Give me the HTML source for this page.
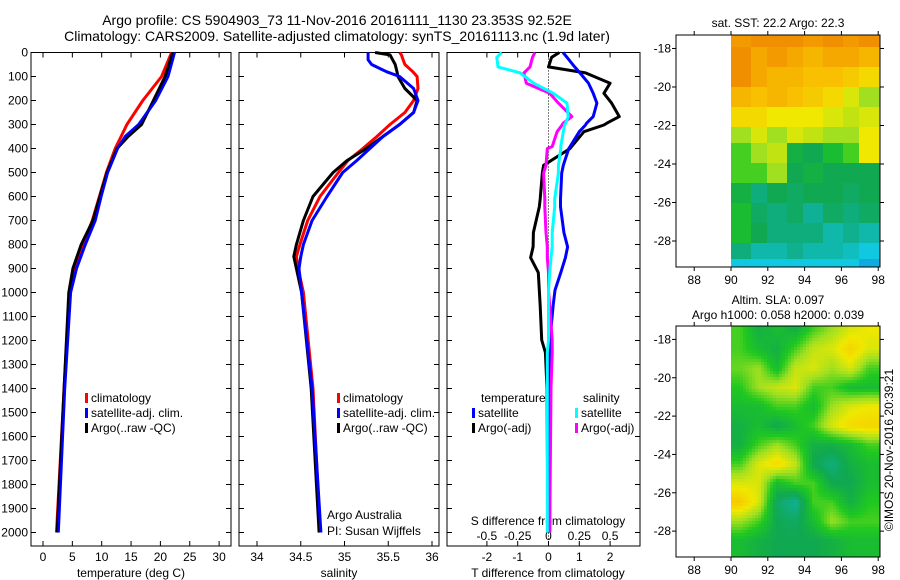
<!DOCTYPE html>
<html><head><meta charset="utf-8"><style>
body{margin:0;background:#fff}
svg{display:block;font-family:"Liberation Sans",sans-serif}
text{font-size:12px;fill:#000}
</style></head><body>
<svg id="c" width="900" height="580" viewBox="0 0 900 580">
<text x="337" y="25" text-anchor="middle" style="font-size:14px">Argo profile: CS 5904903_73 11-Nov-2016 20161111_1130 23.353S 92.52E</text>
<text x="337" y="41" text-anchor="middle" style="font-size:14px">Climatology: CARS2009. Satellite-adjusted climatology: synTS_20161113.nc (1.9d later)</text>
<g id="g"></g>
</svg>
<script>
// ---------- data ----------
const depthTicks=[0,100,200,300,400,500,600,700,800,900,1000,1100,1200,1300,1400,1500,1600,1700,1800,1900,2000];
const tempTicks=[0,5,10,15,20,25,30];
const salTicks=[34,34.5,35,35.5,36];
const salTickLabels=["34","34.5","35","35.5","36"];
const tdiffTicks=[-2,-1,0,1,2];
const sdiffTicks=[-0.5,-0.25,0,0.25,0.5];
const sdiffTickLabels=["-0.5","-0.25","0","0.25","0.5"];
const tDepth=[0,100,200,300,350,400,500,600,700,800,900,1000,1400,2000];
const tempArgo=[22.1,20.8,18.8,16.8,14.5,12.6,10.9,9.7,8.5,6.5,5.1,4.4,3.6,2.4];
const tempClim=[21.9,20.2,17.0,14.3,13.3,12.3,10.8,9.6,8.4,6.9,5.4,4.5,3.6,2.3];
const tempSat=[22.4,21.3,19.2,16.3,14.0,12.7,11.0,9.9,8.9,7.2,5.7,4.7,3.7,2.6];
const sDepth=[0,10,30,50,80,100,150,200,250,300,350,400,450,500,600,700,800,850,900,1000,1400,2000];
const salArgo=[35.35,35.52,35.55,35.58,35.6,35.61,35.69,35.83,35.79,35.63,35.44,35.25,35.03,34.87,34.64,34.53,34.45,34.42,34.45,34.51,34.62,34.71];
const salClim=[35.63,35.65,35.67,35.69,35.78,35.83,35.84,35.79,35.69,35.52,35.37,35.21,35.04,34.93,34.72,34.58,34.49,34.45,34.47,34.53,34.64,34.72];
const salSat=[35.27,35.27,35.27,35.31,35.48,35.63,35.79,35.84,35.79,35.63,35.44,35.29,35.14,34.98,34.8,34.63,34.53,34.5,34.48,34.51,34.63,34.73];
const dDepth=[0,20,60,85,128,170,211,267,294,302,330,392,400,470,503,610,643,750,810,855,917,990,1056,1198,1250,1400,2000];
const tdiffSat=[0.47,0.6,0.85,1.02,1.3,1.45,1.57,1.45,1.24,1.2,1.0,0.7,0.66,0.48,0.43,0.39,0.39,0.5,0.62,0.55,0.4,0.21,0.15,0.05,0.05,0.04,0.04];
const tdiffArgo=[0.35,0.1,0.0,1.2,2.0,1.8,2.05,2.3,1.9,1.8,1.15,0.75,0.7,-0.16,-0.2,-0.27,-0.3,-0.49,-0.5,-0.58,-0.33,-0.3,-0.27,-0.22,-0.1,-0.05,-0.02];
const sdiffSat=[-0.38,-0.42,-0.41,-0.23,-0.12,0.04,0.15,0.16,0.14,0.13,0.12,0.1,0.1,0.08,0.08,0.05,0.05,0.03,0.03,0.02,0.01,0.0,0.0,0.0,-0.01,-0.01,-0.01];
const sdiffArgo=[-0.11,-0.13,-0.15,-0.2,-0.18,0.01,0.08,0.19,0.12,0.11,0.07,0.03,-0.01,-0.02,-0.04,-0.03,-0.03,-0.02,-0.01,-0.01,0.0,0.0,0.01,0.03,0.03,0.02,0.01];
const mapLonTicks=[88,90,92,94,96,98];
const mapLatTicks=[-18,-20,-22,-24,-26,-28];
const sstGrid=[
[0.78,0.8,0.82,0.8,0.78,0.8,0.78,0.82],
[0.8,0.75,0.78,0.75,0.72,0.75,0.75,0.72],
[0.82,0.75,0.72,0.72,0.7,0.7,0.68,0.65],
[0.72,0.7,0.72,0.7,0.68,0.65,0.6,0.55],
[0.65,0.65,0.62,0.62,0.62,0.6,0.58,0.6],
[0.55,0.6,0.55,0.6,0.58,0.55,0.55,0.62],
[0.5,0.55,0.58,0.42,0.4,0.45,0.5,0.62],
[0.5,0.5,0.55,0.4,0.42,0.4,0.4,0.4],
[0.42,0.35,0.4,0.38,0.4,0.4,0.38,0.4],
[0.45,0.38,0.35,0.38,0.32,0.38,0.35,0.38],
[0.45,0.4,0.35,0.35,0.35,0.3,0.33,0.3],
[0.35,0.3,0.3,0.33,0.3,0.3,0.28,0.25],
[0.25,0.25,0.25,0.25,0.25,0.25,0.25,0.22]];
const slaGrid=[
[0.5,0.42,0.45,0.42,0.5,0.55,0.6,0.62],
[0.5,0.45,0.42,0.5,0.58,0.6,0.66,0.6],
[0.52,0.55,0.45,0.58,0.6,0.55,0.6,0.5],
[0.48,0.55,0.58,0.6,0.5,0.5,0.45,0.45],
[0.45,0.45,0.5,0.5,0.45,0.55,0.6,0.62],
[0.42,0.45,0.4,0.45,0.5,0.6,0.65,0.66],
[0.42,0.5,0.55,0.5,0.42,0.42,0.45,0.5],
[0.5,0.6,0.65,0.58,0.4,0.35,0.42,0.45],
[0.6,0.6,0.45,0.5,0.5,0.4,0.4,0.45],
[0.68,0.6,0.38,0.32,0.5,0.5,0.42,0.48],
[0.55,0.5,0.4,0.38,0.45,0.55,0.5,0.5],
[0.45,0.42,0.4,0.4,0.4,0.42,0.45,0.45],
[0.45,0.42,0.4,0.4,0.4,0.42,0.45,0.45]];

// ---------- helpers ----------
const NS="http://www.w3.org/2000/svg";
const G=document.getElementById('g');
function mk(tag,attrs,parent){const e=document.createElementNS(NS,tag);for(const k in attrs)e.setAttribute(k,attrs[k]);(parent||G).appendChild(e);return e;}
function txt(x,y,s,anchor,parent){const t=mk('text',{x:x,y:y,'text-anchor':anchor||'middle'},parent);t.textContent=s;return t;}
const TOP=52.5,BOT=546;
const yD=d=>TOP+d*0.24;
function panel(name,x0,x1){
  const g=mk('g',{});
  
  
  const r=mk('rect',{x:x0,y:TOP,width:x1-x0,height:BOT-TOP,fill:'none',stroke:'#000','stroke-width':1},g);
  
  
  depthTicks.forEach(d=>{mk('line',{x1:x0,x2:x0+5,y1:yD(d),y2:yD(d),stroke:'#000'},g);mk('line',{x1:x1,x2:x1-5,y1:yD(d),y2:yD(d),stroke:'#000'},g);});
  return g;
}
function xticks(g,vals,fx,labels,ly){
  vals.forEach((v,i)=>{const x=fx(v);mk('line',{x1:x,x2:x,y1:TOP,y2:TOP+5,stroke:'#000'},g);mk('line',{x1:x,x2:x,y1:BOT,y2:BOT-5,stroke:'#000'},g);
    if(labels){const t=txt(x,ly,labels[i],'middle',g);}});
}
function line(g,vals,depths,fx,color,name,w){
  const pts=vals.map((v,i)=>fx(v).toFixed(1)+','+yD(depths[i]).toFixed(1)).join(' ');
  const p=mk('polyline',{points:pts,fill:'none',stroke:color,'stroke-width':w||3,'stroke-linejoin':'round'},g);
  
  
}
function legend(g,x,y,color,label){
  mk('rect',{x:x,y:y-9,width:3,height:10,fill:color},g);
  const t=txt(x+6,y,label,'start',g);
  
  
}

// ---------- panel 1: temperature ----------
const xT=v=>43+v*5.87;
const p1=panel('temperature-panel',31,231);
xticks(p1,tempTicks,xT,tempTicks.map(String),561);
depthTicks.forEach(d=>{const t=txt(28,yD(d)+4,String(d),'end',p1);});
line(p1,tempClim,tDepth,xT,'#f00','temp-climatology-line');
line(p1,tempSat,tDepth,xT,'#00f','temp-satellite-line');
line(p1,tempArgo,tDepth,xT,'#000','temp-argo-line');
line(p1,tempSat,tDepth,xT,'#00f','temp-satellite-line-top',2);
let t1=txt(131,577,'temperature (deg C)','middle',p1);
legend(p1,85,402,'#f00','climatology');legend(p1,85,417,'#00f','satellite-adj. clim.');legend(p1,85,432,'#000','Argo(..raw -QC)');

// ---------- panel 2: salinity ----------
const xS=v=>257+(v-34)*87.5;
const p2=panel('salinity-panel',239,439);
xticks(p2,salTicks,xS,salTickLabels,561);
line(p2,salClim,sDepth,xS,'#f00','sal-climatology-line');
line(p2,salArgo,sDepth,xS,'#000','sal-argo-line');
line(p2,salSat,sDepth,xS,'#00f','sal-satellite-line');
let t2=txt(339,577,'salinity','middle',p2);
legend(p2,337,402,'#f00','climatology');legend(p2,337,417,'#00f','satellite-adj. clim.');legend(p2,337,432,'#000','Argo(..raw -QC)');
let a1=txt(327,519,'Argo Australia','start',p2);
let a2=txt(327,535,'PI: Susan Wijffels','start',p2);

// ---------- panel 3: differences ----------
const xD=v=>548.5+v*30.8;
const xSD=v=>548.5+v*123.2;
const p3=panel('difference-panel',447,640);
xticks(p3,tdiffTicks,xD,tdiffTicks.map(String),561);
mk('line',{x1:xD(0),x2:xD(0),y1:TOP,y2:BOT,stroke:'#000','stroke-dasharray':'1,2'},p3);
sdiffTicks.forEach((v,i)=>{const t=txt(xSD(v),540,sdiffTickLabels[i],'middle',p3);});
let s3=txt(548,525,'S difference from climatology','middle',p3);
let t3=txt(548,577,'T difference from climatology','middle',p3);
line(p3,tdiffArgo,dDepth,xD,'#000','tdiff-argo-line');
line(p3,tdiffSat,dDepth,xD,'#00f','tdiff-satellite-line');
line(p3,sdiffArgo,dDepth,xSD,'#f0f','sdiff-argo-line');
line(p3,sdiffSat,dDepth,xSD,'#0ff','sdiff-satellite-line');
let lt=txt(481,402,'temperature','start',p3);
let ls=txt(583,402,'salinity','start',p3);
legend(p3,472,417,'#00f','satellite');legend(p3,472,432,'#000','Argo(-adj)');
legend(p3,575,417,'#0ff','satellite');legend(p3,575,432,'#f0f','Argo(-adj)');

// ---------- maps ----------
const stops=[[0.15,[16,96,224]],[0.25,[16,200,224]],[0.32,[16,176,150]],[0.4,[16,168,80]],[0.48,[32,200,32]],[0.55,[160,224,32]],[0.62,[240,232,0]],[0.7,[248,192,0]],[0.8,[240,144,0]]];
function cmap(v){if(v<=stops[0][0])return stops[0][1];for(let i=1;i<stops.length;i++){if(v<=stops[i][0]){const a=stops[i-1],b=stops[i],f=(v-a[0])/(b[0]-a[0]);return a[1].map((c,k)=>Math.round(c+(b[1][k]-c)*f));}}return stops[stops.length-1][1];}
function map(name,top,bot,grid,smooth,title1,title2){
  const g=mk('g',{});
  
  
  const L=676,R=880;
  const xL=lon=>731+(lon-90)*18.4;
  const k=(bot-top)/12.05;
  const yL=lat=>top+(-17.3-lat)*k;
  const step=smooth?3:4;
  const rows=grid.length,cols=grid[0].length;
  for(let y=top;y<bot;y+=step){for(let x=xL(90);x<R;x+=step){
    const lon=(x+step/2-731)/18.4+90, lat=-17.3-(y+step/2-top)/k;
    let gx=Math.min(cols-1,Math.max(0,lon-90-0.5)), gy=Math.min(rows-1,Math.max(0,(-17.3-lat)-0.2));
    let v;
    if(smooth){const x0=Math.floor(gx),y0=Math.floor(gy),x1=Math.min(cols-1,x0+1),y1=Math.min(rows-1,y0+1),fx=gx-x0,fy=gy-y0;
      v=grid[y0][x0]*(1-fx)*(1-fy)+grid[y0][x1]*fx*(1-fy)+grid[y1][x0]*(1-fx)*fy+grid[y1][x1]*fx*fy;}
    else{v=grid[Math.round(gy)][Math.round(gx)];}
    const c=cmap(v);
    mk('rect',{x:x,y:y,width:Math.min(step,R-x)+0.3,height:Math.min(step,bot-y)+0.3,fill:'rgb('+c+')'},g);
  }}
  const f=mk('rect',{x:L,y:top,width:R-L,height:bot-top,fill:'none',stroke:'#000'},g);
  
  
  mapLonTicks.forEach(lon=>{const x=xL(lon);mk('line',{x1:x,x2:x,y1:top,y2:top-4,stroke:'#000'},g);mk('line',{x1:x,x2:x,y1:bot,y2:bot+4,stroke:'#000'},g);
    const t=txt(x,bot+17,String(lon),'middle',g);});
  mapLatTicks.forEach(lat=>{const y=yL(lat);mk('line',{x1:L,x2:L-4,y1:y,y2:y,stroke:'#000'},g);mk('line',{x1:R,x2:R+4,y1:y,y2:y,stroke:'#000'},g);
    const t=txt(671,y+4,String(lat),'end',g);});
  if(title2){const a=txt(778,top-22,title1,'middle',g);
    const b=txt(778,top-7,title2,'middle',g);}
  else{const a=txt(778,top-8,title1,'middle',g);}
}
map('sst-map',35,267,sstGrid,false,'sat. SST: 22.2 Argo: 22.3');
map('sla-map',326,557,slaGrid,true,'Altim. SLA: 0.097','Argo h1000: 0.058 h2000: 0.039');
const cr=txt(0,0,'©IMOS 20-Nov-2016 20:39:21','middle');
cr.setAttribute('transform','translate(893,450) rotate(-90)');


</script>
</body></html>
